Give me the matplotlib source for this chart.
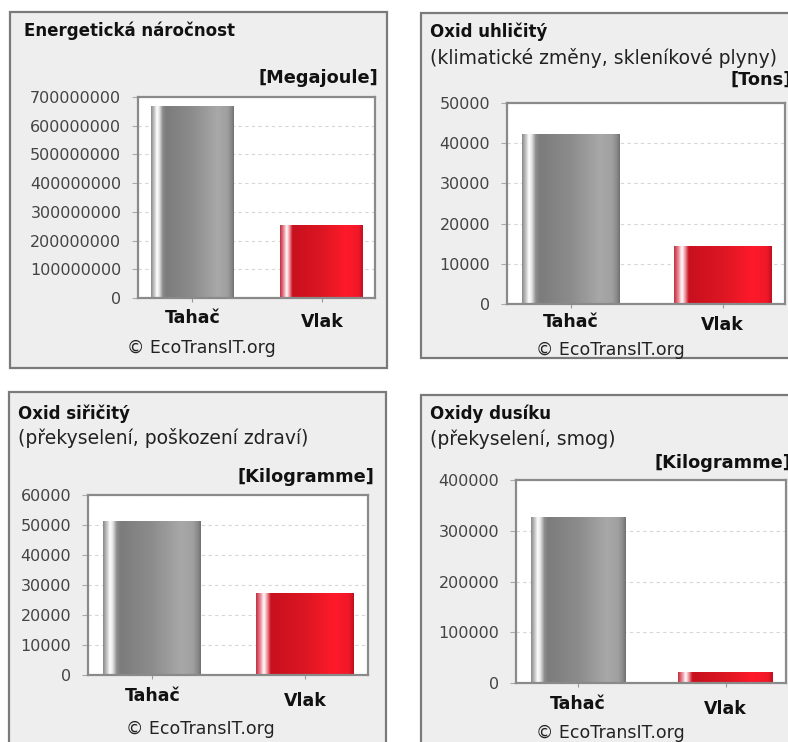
import matplotlib
matplotlib.use("Agg")
import matplotlib.pyplot as plt
import matplotlib.transforms as mtransforms
from matplotlib.colors import LinearSegmentedColormap
from matplotlib.patches import Rectangle
import numpy as np

W, H = 788, 742

categories = ["Tahač", "Vlak"]

energy_values = [668000000, 253000000]
co2_values = [42400, 14500]
so2_values = [51500, 27400]
nox_values = [328000, 22000]

titles = ["Energetická náročnost", "Oxid uhličitý", "Oxid siřičitý", "Oxidy dusíku"]
subtitles = ["", "(klimatické změny, skleníkové plyny)",
             "(překyselení, poškození zdraví)", "(překyselení, smog)"]
units = ["[Megajoule]", "[Tons]", "[Kilogramme]", "[Kilogramme]"]
y_max = [700000000, 50000, 60000, 400000]
y_step = [100000000, 10000, 10000, 100000]

gray_cmap = LinearSegmentedColormap.from_list("cyl_gray", [
    (0.00, "#8a8a8a"), (0.04, "#c8c8c8"), (0.07, "#ffffff"), (0.10, "#e2e2e2"),
    (0.14, "#8c8c8c"), (0.18, "#7c7c7c"), (0.50, "#8c8c8c"), (0.80, "#a8a8a8"),
    (0.92, "#a0a0a0"), (0.97, "#8a8a8a"), (1.00, "#707070")])
red_cmap = LinearSegmentedColormap.from_list("cyl_red", [
    (0.00, "#c03040"), (0.04, "#e88090"), (0.08, "#ffffff"), (0.11, "#f0a0a8"),
    (0.15, "#c8101e"), (0.50, "#dc1622"), (0.80, "#ff1a2a"), (0.95, "#f01828"),
    (1.00, "#c01020")])

fig = plt.figure(figsize=(W / 100, H / 100), dpi=100)
fig.patch.set_facecolor("white")


def px_rect(x0, y0, x1, y1):
    return [x0 / W, 1 - y1 / H, (x1 - x0) / W, (y1 - y0) / H]


def fx(x):
    return x / W


def fy(y):
    return 1 - y / H


def panel(box, plot, values, idx, text_pos, label_y):
    bx0, by0, bx1, by1 = box
    fig.patches.append(Rectangle((fx(bx0), fy(by1)), (bx1 - bx0) / W, (by1 - by0) / H,
                                 transform=fig.transFigure, facecolor="#eeeeee",
                                 edgecolor="#7a7a7a", linewidth=1.6, zorder=-5))
    tx, ty_title, ty_sub, ux, uy = text_pos
    fig.text(fx(tx), fy(ty_title), titles[idx], fontsize=12, fontweight="bold",
             va="center", ha="left", color="#111111")
    if subtitles[idx]:
        fig.text(fx(tx), fy(ty_sub), subtitles[idx], fontsize=13.5, va="center",
                 ha="left", color="#222222")
    fig.text(fx(ux), fy(uy), units[idx], fontsize=12.8, fontweight="bold",
             va="center", ha="right", color="#111111")

    ax = fig.add_axes(px_rect(*plot))
    ax.set_zorder(1)
    ax.set_facecolor("white")
    x = np.arange(len(categories))
    bars = ax.bar(x, values, width=0.64, color="none", edgecolor="none", zorder=2)
    grad = np.linspace(0, 1, 256).reshape(1, -1)
    for bar, cmap in zip(bars, [gray_cmap, red_cmap]):
        bx, by = bar.get_x(), bar.get_y()
        bw, bh = bar.get_width(), bar.get_height()
        im = ax.imshow(grad, cmap=cmap, aspect="auto", extent=(bx, bx + bw, by, by + bh),
                       zorder=2, interpolation="bilinear")
        im.set_clip_path(bar)

    ax.set_xlim(-0.42, 1.41)
    ax.set_ylim(0, y_max[idx])
    ticks = np.arange(0, y_max[idx] + 1, y_step[idx])
    ax.set_yticks(ticks)
    ax.set_yticklabels([str(int(t)) for t in ticks])
    ax.yaxis.grid(True, color="#d6d6d6", linestyle=(0, (3, 3)), linewidth=0.8)
    ax.set_axisbelow(True)
    ax.tick_params(axis="y", length=4, color="#aaaaaa", labelsize=11.5,
                   labelcolor="#444444", pad=8)
    ax.set_xticks(x)
    ax.set_xticklabels([])
    ax.tick_params(axis="x", length=3, color="#999999")
    for s in ax.spines.values():
        s.set_color("#8a8a8a")
        s.set_linewidth(1.6)

    # category labels, the second one sits a few pixels lower
    for i, cat in enumerate(categories):
        off = mtransforms.offset_copy(ax.get_xaxis_transform(), fig=fig,
                                      x=0, y=-(label_y[i]) * 0.72, units="points")
        ax.text(i, 0, cat, transform=off, ha="center", va="center",
                fontsize=12.5, fontweight="bold", color="#111111")
    return ax


# Energetická náročnost
panel((10, 12, 387, 368), (138, 97, 375, 298), energy_values, 0,
      (24, 31, 0, 378, 78), (20, 24))
fig.text(fx(201), fy(348), "© EcoTransIT.org", fontsize=12.5, ha="center",
         va="center", color="#222222")

# Oxid uhličitý
panel((421, 13, 800, 358), (507, 103, 785, 304), co2_values, 1,
      (430, 32, 58, 792, 80), (18, 21))
fig.text(fx(610), fy(350), "© EcoTransIT.org", fontsize=12.5, ha="center",
         va="center", color="#222222")

# Oxid siřičitý
panel((9, 392, 386, 760), (88, 495, 368, 675), so2_values, 2,
      (18, 414, 438, 374, 477), (21, 26))
fig.text(fx(200), fy(729), "© EcoTransIT.org", fontsize=12.5, ha="center",
         va="center", color="#222222")

# Oxidy dusíku
panel((421, 395, 800, 760), (516, 480, 786, 683), nox_values, 3,
      (430, 414, 439, 791, 463), (21, 26))
fig.text(fx(610), fy(733), "© EcoTransIT.org", fontsize=12.5, ha="center",
         va="center", color="#222222")

fig.savefig("out.png", dpi=100, facecolor="white")
